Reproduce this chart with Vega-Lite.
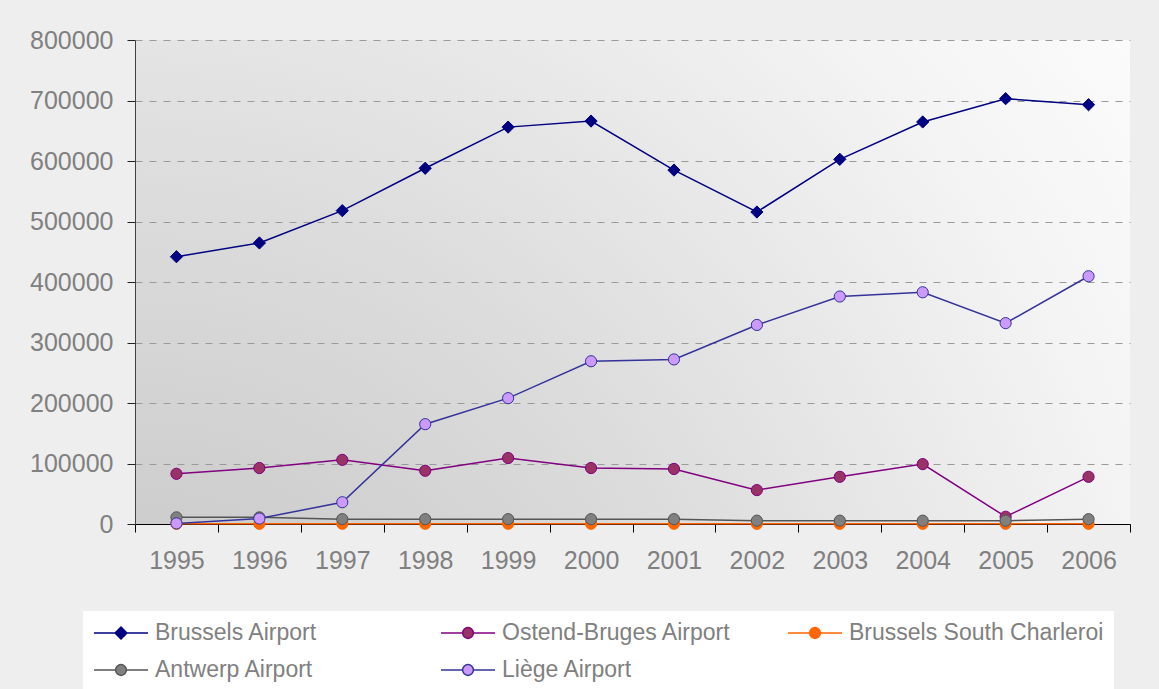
{
  "$schema": "https://vega.github.io/schema/vega-lite/v6.json",
  "width": 995,
  "height": 484,
  "autosize": {"type": "none"},
  "padding": {"left": 135, "top": 40, "right": 29, "bottom": 165},
  "background": "#eeeeee",
  "config": {
    "font": "Liberation Sans",
    "view": {
      "stroke": null,
      "fill": {
        "gradient": "radial",
        "x1": 0, "y1": 1, "r1": 0,
        "x2": 0, "y2": 1, "r2": 1.3,
        "stops": [
          {"offset": 0, "color": "#c2c2c2"},
          {"offset": 0.45, "color": "#dcdcdc"},
          {"offset": 0.8, "color": "#f4f4f4"},
          {"offset": 1, "color": "#fdfdfd"}
        ]
      }
    }
  },
  "data": {
    "values": [
      {"airport": "Brussels Airport", "year": "1995", "value": 441800},
      {"airport": "Brussels Airport", "year": "1996", "value": 464500},
      {"airport": "Brussels Airport", "year": "1997", "value": 517900},
      {"airport": "Brussels Airport", "year": "1998", "value": 588000},
      {"airport": "Brussels Airport", "year": "1999", "value": 656000},
      {"airport": "Brussels Airport", "year": "2000", "value": 666000},
      {"airport": "Brussels Airport", "year": "2001", "value": 585000},
      {"airport": "Brussels Airport", "year": "2002", "value": 515700},
      {"airport": "Brussels Airport", "year": "2003", "value": 602800},
      {"airport": "Brussels Airport", "year": "2004", "value": 664500},
      {"airport": "Brussels Airport", "year": "2005", "value": 703000},
      {"airport": "Brussels Airport", "year": "2006", "value": 693000},
      {"airport": "Ostend-Bruges Airport", "year": "1995", "value": 83000},
      {"airport": "Ostend-Bruges Airport", "year": "1996", "value": 92500},
      {"airport": "Ostend-Bruges Airport", "year": "1997", "value": 106000},
      {"airport": "Ostend-Bruges Airport", "year": "1998", "value": 88000},
      {"airport": "Ostend-Bruges Airport", "year": "1999", "value": 109000},
      {"airport": "Ostend-Bruges Airport", "year": "2000", "value": 92500},
      {"airport": "Ostend-Bruges Airport", "year": "2001", "value": 91000},
      {"airport": "Ostend-Bruges Airport", "year": "2002", "value": 56000},
      {"airport": "Ostend-Bruges Airport", "year": "2003", "value": 78000},
      {"airport": "Ostend-Bruges Airport", "year": "2004", "value": 99000},
      {"airport": "Ostend-Bruges Airport", "year": "2005", "value": 12000},
      {"airport": "Ostend-Bruges Airport", "year": "2006", "value": 78000},
      {"airport": "Brussels South Charleroi", "year": "1995", "value": 300},
      {"airport": "Brussels South Charleroi", "year": "1996", "value": 300},
      {"airport": "Brussels South Charleroi", "year": "1997", "value": 400},
      {"airport": "Brussels South Charleroi", "year": "1998", "value": 400},
      {"airport": "Brussels South Charleroi", "year": "1999", "value": 400},
      {"airport": "Brussels South Charleroi", "year": "2000", "value": 400},
      {"airport": "Brussels South Charleroi", "year": "2001", "value": 400},
      {"airport": "Brussels South Charleroi", "year": "2002", "value": 300},
      {"airport": "Brussels South Charleroi", "year": "2003", "value": 300},
      {"airport": "Brussels South Charleroi", "year": "2004", "value": 300},
      {"airport": "Brussels South Charleroi", "year": "2005", "value": 300},
      {"airport": "Brussels South Charleroi", "year": "2006", "value": 300},
      {"airport": "Antwerp Airport", "year": "1995", "value": 11000},
      {"airport": "Antwerp Airport", "year": "1996", "value": 11000},
      {"airport": "Antwerp Airport", "year": "1997", "value": 8000},
      {"airport": "Antwerp Airport", "year": "1998", "value": 8000},
      {"airport": "Antwerp Airport", "year": "1999", "value": 8000},
      {"airport": "Antwerp Airport", "year": "2000", "value": 8000},
      {"airport": "Antwerp Airport", "year": "2001", "value": 8000},
      {"airport": "Antwerp Airport", "year": "2002", "value": 5500},
      {"airport": "Antwerp Airport", "year": "2003", "value": 5500},
      {"airport": "Antwerp Airport", "year": "2004", "value": 5500},
      {"airport": "Antwerp Airport", "year": "2005", "value": 5500},
      {"airport": "Antwerp Airport", "year": "2006", "value": 8000},
      {"airport": "Liège Airport", "year": "1995", "value": 1000},
      {"airport": "Liège Airport", "year": "1996", "value": 9000},
      {"airport": "Liège Airport", "year": "1997", "value": 36000},
      {"airport": "Liège Airport", "year": "1998", "value": 165000},
      {"airport": "Liège Airport", "year": "1999", "value": 208000},
      {"airport": "Liège Airport", "year": "2000", "value": 269000},
      {"airport": "Liège Airport", "year": "2001", "value": 272000},
      {"airport": "Liège Airport", "year": "2002", "value": 329000},
      {"airport": "Liège Airport", "year": "2003", "value": 376000},
      {"airport": "Liège Airport", "year": "2004", "value": 383000},
      {"airport": "Liège Airport", "year": "2005", "value": 332000},
      {"airport": "Liège Airport", "year": "2006", "value": 409500}
    ]
  },
  "encoding": {
    "x": {
      "field": "year",
      "type": "ordinal",
      "scale": {"paddingInner": 0, "paddingOuter": 0},
      "axis": {
        "title": null,
        "labelAngle": 0,
        "labelFontSize": 25,
        "labelColor": "#808080",
        "labelPadding": 16,
        "tickBand": "extent",
        "tickSize": 8,
        "tickColor": "#000000",
        "domainColor": "#000000",
        "domainWidth": 1,
        "grid": false
      }
    },
    "y": {
      "field": "value",
      "type": "quantitative",
      "scale": {"domain": [0, 800000], "nice": false},
      "axis": {
        "title": null,
        "values": [0, 100000, 200000, 300000, 400000, 500000, 600000, 700000, 800000],
        "format": "d",
        "labelFontSize": 25,
        "labelColor": "#808080",
        "labelPadding": 14,
        "tickSize": 8,
        "tickColor": "#202020",
        "domainColor": "#404040",
        "grid": true,
        "gridColor": "#9a9a9a",
        "gridDash": [7, 7],
        "gridWidth": 1
      }
    }
  },
  "layer": [
    {
      "mark": {"type": "line", "strokeWidth": 1.5},
      "encoding": {
        "stroke": {
          "field": "airport",
          "type": "nominal",
          "scale": {
            "domain": ["Brussels Airport", "Ostend-Bruges Airport", "Brussels South Charleroi", "Antwerp Airport", "Liège Airport"],
            "range": ["#000080", "#800080", "#FF6600", "#555555", "#333399"]
          }
        }
      }
    },
    {
      "transform": [{"filter": "datum.airport === 'Brussels Airport'"}],
      "mark": {"type": "point", "shape": "diamond", "size": 150, "opacity": 1, "strokeWidth": 1},
      "encoding": {
        "stroke": {"field": "airport", "type": "nominal"},
        "fill": {
          "field": "airport",
          "type": "nominal",
          "scale": {
            "domain": ["Brussels Airport", "Ostend-Bruges Airport", "Brussels South Charleroi", "Antwerp Airport", "Liège Airport"],
            "range": ["#000080", "#993366", "#FF6600", "#808080", "#CC99FF"]
          }
        }
      }
    },
    {
      "transform": [{"filter": "datum.airport !== 'Brussels Airport'"}],
      "mark": {"type": "point", "shape": "circle", "size": 125, "opacity": 1, "strokeWidth": 1},
      "encoding": {
        "stroke": {"field": "airport", "type": "nominal"},
        "fill": {"field": "airport", "type": "nominal"}
      }
    },
    {
      "mark": {"type": "point", "opacity": 0, "size": 2916},
      "encoding": {
        "stroke": {"field": "airport", "type": "nominal"},
        "fill": {"field": "airport", "type": "nominal"},
        "shape": {
          "field": "airport",
          "type": "nominal",
          "scale": {
            "domain": ["Brussels Airport", "Ostend-Bruges Airport", "Brussels South Charleroi", "Antwerp Airport", "Liège Airport"],
            "range": [
              "M-1,0H-0.22M0.22,0H1M-0.22,0L0,-0.22L0.22,0L0,0.22Z",
              "M-1,0H-0.2M0.2,0H1M-0.2,0A0.2,0.2,0,1,1,0.2,0A0.2,0.2,0,1,1,-0.2,0Z",
              "M-1,0H-0.2M0.2,0H1M-0.2,0A0.2,0.2,0,1,1,0.2,0A0.2,0.2,0,1,1,-0.2,0Z",
              "M-1,0H-0.2M0.2,0H1M-0.2,0A0.2,0.2,0,1,1,0.2,0A0.2,0.2,0,1,1,-0.2,0Z",
              "M-1,0H-0.2M0.2,0H1M-0.2,0A0.2,0.2,0,1,1,0.2,0A0.2,0.2,0,1,1,-0.2,0Z"
            ]
          },
          "legend": {
            "title": null,
            "orient": "none",
            "direction": "horizontal",
            "legendX": -52,
            "legendY": 571,
            "columns": 3,
            "gridAlign": "all",
            "columnPadding": 30,
            "rowPadding": 13,
            "clipHeight": 24,
            "padding": 10,
            "fillColor": "#ffffff",
            "strokeColor": null,
            "symbolSize": 2916,
            "symbolOpacity": 1,
            "symbolStrokeWidth": 1.5,
            "labelFontSize": 23,
            "labelColor": "#808080",
            "labelFont": "Liberation Sans",
            "labelOffset": 6,
            "labelLimit": 400
          }
        }
      }
    }
  ]
}
